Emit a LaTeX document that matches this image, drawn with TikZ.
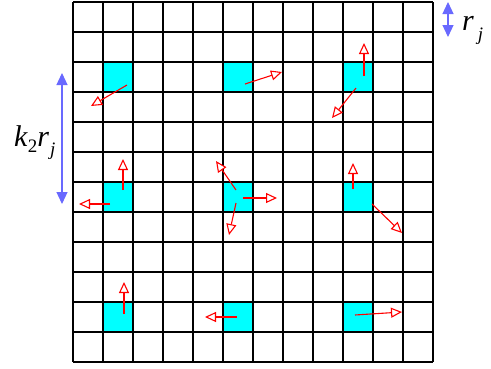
\documentclass[tikz,border=0pt]{standalone}
\usepackage{fontspec}
\setmainfont{Liberation Serif}
\usetikzlibrary{arrows.meta}
\definecolor{dimblue}{RGB}{105,105,255}
\definecolor{hotcyan}{RGB}{0,255,255}
\begin{document}
\begin{tikzpicture}[x=1pt,y=-1pt,
  gridline/.style={draw=black, line width=1.1pt},
  blockline/.style={draw=black, line width=1.8pt},
  hot/.style={fill=hotcyan, draw=none},
  vec/.style={draw=red, line width=1.1pt, -{Triangle[open,length=11pt,width=10pt,fill=white]}},
  dimarrow/.style={draw=dimblue, line width=1.2pt, {Triangle[length=12pt,width=11pt]}-{Triangle[length=12pt,width=11pt]}},
  lbl/.style={inner sep=0pt, font=\fontsize{30}{30}\selectfont}]
\useasboundingbox (0,0) rectangle (491,368);
\fill[white] (0,0) rectangle (491,368);
% cyan cells
\foreach \c in {1,5,9}{
  \foreach \r in {2,6,10}{
    \fill[hot] (73+30*\c,2+30*\r) rectangle ++(30,30);
  }
}
% grid
\foreach \i in {0,...,12}{
  \draw[gridline] (73+30*\i,2) -- (73+30*\i,362);
  \draw[gridline] (73,2+30*\i) -- (433,2+30*\i);
}
\foreach \i in {0,4,8,12}{
  \draw[blockline] (73+30*\i,2) -- (73+30*\i,362);
  \draw[blockline] (73,2+30*\i) -- (433,2+30*\i);
}
% red vectors
\draw[vec] (127,85) -- (91,106);
\draw[vec] (245,84) -- (282,72);
\draw[vec] (364,76) -- (364,43);
\draw[vec] (356,88) -- (332,118);
\draw[vec] (123,190) -- (123,159);
\draw[vec] (110,204) -- (79,204);
\draw[vec] (236,190) -- (216,161);
\draw[vec] (243,198) -- (277,198);
\draw[vec] (236,203) -- (229,235);
\draw[vec] (353,189) -- (353,163);
\draw[vec] (372,204) -- (402,233);
\draw[vec] (124,314) -- (124,282);
\draw[vec] (237,317) -- (205,317);
\draw[vec] (355,315) -- (402,312);
% dimension arrows
\coordinate (ktop) at (62,73);
\coordinate (kbot) at (62,204);
\draw[dimarrow] (ktop) -- (kbot);
\coordinate (rtop) at (448,2);
\coordinate (rbot) at (448,37);
\draw[dimarrow] (rtop) -- (rbot);
% labels
\node[lbl, anchor=base west] (klabel) at (14,146) {\textit{k}\raisebox{-0.22em}{\fontsize{19}{19}\selectfont 2}\textit{r}\hspace{1pt}\raisebox{-0.3em}{\fontsize{19}{19}\selectfont\textit{j}}};
\node[lbl, anchor=base west] (rlabel) at (462,30) {\textit{r}\hspace{4pt}\raisebox{-0.35em}{\fontsize{19}{19}\selectfont\textit{j}}};
\end{tikzpicture}
\end{document}
